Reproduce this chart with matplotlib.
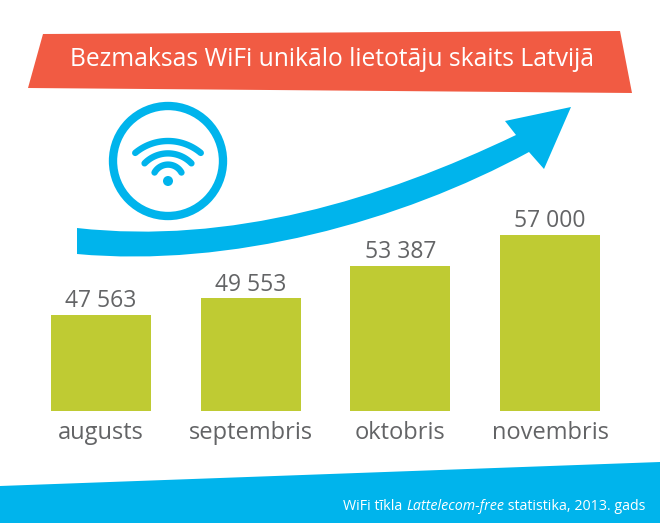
import numpy as np
import matplotlib
matplotlib.use('Agg')
import matplotlib.pyplot as plt
from matplotlib.patches import Polygon, Circle, PathPatch
from matplotlib.path import Path

months = ['augusts', 'septembris', 'oktobris', 'novembris']
users = [47563, 49553, 53387, 57000]
user_labels = ['47 563', '49 553', '53 387', '57 000']

title = 'Bezmaksas WiFi unikālo lietotāju skaits Latvijā'

RED = '#F15B43'
BLUE = '#00B4EC'
GREEN = '#BFCB33'
GREY = '#636466'

plt.rcParams['font.family'] = ['Open Sans', 'DejaVu Sans']

fig = plt.figure(figsize=(6.6, 5.23), dpi=100)

# background layer in pixel coordinates, for the decoration
bg = fig.add_axes([0, 0, 1, 1])
bg.set_xlim(0, 660)
bg.set_ylim(523, 0)
bg.axis('off')

bg.add_patch(Polygon([(43, 34), (620, 31), (632, 93), (28, 88)], fc=RED, ec='none'))
bg.text(332, 60, title, color='white', fontsize=17.7, ha='center', va='center')

bg.add_patch(Polygon([(0, 486), (660, 462), (660, 523), (0, 523)], fc=BLUE, ec='none'))

# arrow
verts = [(77, 228), (230, 245), (380, 200), (516, 135),
         (505, 121), (571, 107), (544, 169), (529, 152),
         (400, 222), (230, 268), (77, 254), (77, 228)]
codes = [Path.MOVETO, Path.CURVE4, Path.CURVE4, Path.CURVE4,
         Path.LINETO, Path.LINETO, Path.LINETO, Path.LINETO,
         Path.CURVE4, Path.CURVE4, Path.CURVE4, Path.CLOSEPOLY]
bg.add_patch(PathPatch(Path(verts, codes), fc=BLUE, ec='none'))

# wifi icon
bg.add_patch(Circle((168, 161), 55, fc='white', ec=BLUE, lw=6))
bg.add_patch(Circle((168, 181), 5, fc=BLUE, ec='none'))
for r, cy, half in [(51, 192, 40), (32.6, 186, 46), (15.4, 180, 61)]:
    t = np.radians(np.linspace(-half, half, 40))
    bg.plot(168 + r * np.sin(t), cy - r * np.cos(t), color=BLUE, lw=4.6,
            solid_capstyle='round')

# footer, italic part in the middle
p1 = bg.text(343, 507, 'WiFi tīkla ', color='white', fontsize=10.3, ha='left', va='center')
p2 = bg.annotate('Lattelecom-free', xy=(1, 0), xycoords=p1, color='white', fontsize=10.3,
                 style='italic', ha='left', va='bottom')
bg.annotate(' statistika, 2013. gads', xy=(1, 0), xycoords=p2, color='white', fontsize=10.3,
            ha='left', va='bottom')

# bars, axis is cut off below zero like in the original
ax = fig.add_axes([0, 112 / 523, 1, 411 / 523])
ax.patch.set_alpha(0)
x = np.arange(len(months))
ax.bar(x, users, width=0.668, color=GREEN)
for i in x:
    ax.text(i, users[i] + 200, user_labels[i], color=GREY, fontsize=16.5, ha='center', va='bottom')
ax.set_xlim(-0.675, 3.735)
ax.set_ylim(36305, 84600)
ax.set_xticks(x)
ax.set_xticklabels(months, color=GREY, fontsize=17)
ax.tick_params(axis='x', length=0, pad=7)
ax.set_yticks([])
for s in ax.spines.values():
    s.set_visible(False)

fig.savefig('out.png', dpi=100)
